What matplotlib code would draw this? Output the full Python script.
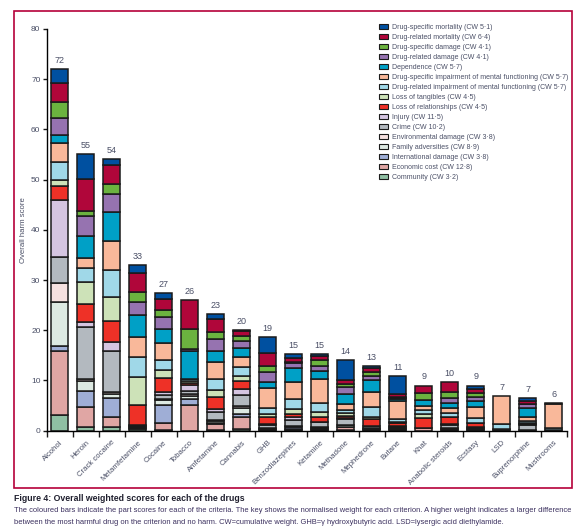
import matplotlib.pyplot as plt
from matplotlib.patches import Patch, Rectangle

plt.rcParams["font.family"] = ["Liberation Sans", "DejaVu Sans"]

drugs = ["Alcohol", "Heroin", "Crack cocaine", "Metamfetamine", "Cocaine", "Tobacco",
         "Amfetamine", "Cannabis", "GHB", "Benzodiazepines", "Ketamine", "Methadone",
         "Mephedrone", "Butane", "Khat", "Anabolic steroids", "Ecstasy", "LSD",
         "Buprenorphine", "Mushrooms"]
totals = [72, 55, 54, 33, 27, 26, 23, 20, 19, 15, 15, 14, 13, 11, 9, 10, 9, 7, 7, 6]

# criteria, bottom of the stack first
criteria = ["Community (CW 3·2)", "Economic cost (CW 12·8)", "International damage (CW 3·8)",
            "Family adversities (CW 8·9)", "Environmental damage (CW 3·8)", "Crime (CW 10·2)",
            "Injury (CW 11·5)", "Loss of relationships (CW 4·5)", "Loss of tangibles (CW 4·5)",
            "Drug-related impairment of mental functioning (CW 5·7)",
            "Drug-specific impairment of mental functioning (CW 5·7)",
            "Dependence (CW 5·7)", "Drug-related damage (CW 4·1)", "Drug-specific damage (CW 4·1)",
            "Drug-related mortality (CW 6·4)", "Drug-specific mortality (CW 5·1)"]
colors = ["#8fbfa3", "#e0a6a4", "#9faed6", "#dde9e2", "#f6e1e0", "#b3b9bf",
          "#d5c5e1", "#ee3127", "#cde2b8", "#a0d8e8", "#f9b89a", "#00a0c6",
          "#9673b0", "#6bb33f", "#b0063a", "#0050a0"]

# part scores per drug, same order as criteria
scores = {
    "Alcohol":           [3.2, 12.7, 0.9, 8.9, 3.8, 5.0, 11.5, 2.8, 1.2, 3.6, 3.6, 1.7, 3.3, 3.3, 3.8, 2.7],
    "Heroin":            [0.8, 3.9, 3.3, 1.9, 0.3, 10.4, 1.0, 3.6, 4.5, 2.8, 1.8, 4.5, 4.0, 0.9, 6.4, 5.1],
    "Crack cocaine":     [0.8, 1.9, 3.9, 0.7, 0.4, 8.1, 1.8, 4.3, 4.7, 5.5, 5.7, 5.8, 3.5, 2.0, 3.8, 1.2],
    "Metamfetamine":     [0.3, 0.2, 0.2, 0.1, 0.1, 0.1, 0.1, 4.1, 5.4, 4.0, 4.0, 4.4, 2.7, 2.0, 3.8, 1.5],
    "Cocaine":           [0.1, 1.4, 3.7, 1.0, 0.1, 0.9, 0.6, 2.6, 1.6, 2.0, 3.5, 2.8, 2.4, 1.3, 2.3, 1.1],
    "Tobacco":           [0.0, 5.2, 1.1, 0.7, 0.3, 0.7, 1.1, 0.3, 0.5, 0.3, 0.1, 5.6, 0.4, 3.9, 5.9, 0.0],
    "Amfetamine":        [0.2, 1.1, 0.3, 0.3, 0.2, 1.7, 0.6, 2.3, 1.5, 2.0, 3.4, 2.3, 2.4, 1.3, 2.6, 1.0],
    "Cannabis":          [0.4, 2.4, 0.5, 1.3, 0.4, 2.2, 1.2, 1.4, 1.0, 1.9, 1.9, 1.8, 1.5, 1.0, 1.0, 0.1],
    "GHB":               [0.1, 0.2, 0.1, 0.1, 0.1, 0.6, 0.1, 1.4, 0.6, 1.3, 4.0, 1.1, 2.0, 1.2, 2.6, 3.1],
    "Benzodiazepines":   [0.1, 0.3, 0.3, 0.2, 0.1, 1.2, 0.5, 0.7, 0.9, 2.0, 3.4, 2.8, 0.9, 0.2, 0.9, 0.8],
    "Ketamine":          [0.1, 0.3, 0.1, 0.2, 0.1, 0.9, 0.1, 1.0, 1.0, 1.8, 4.6, 1.7, 0.9, 1.3, 0.7, 0.5],
    "Methadone":         [0.1, 0.6, 0.1, 0.3, 0.1, 1.2, 0.2, 0.4, 0.5, 0.6, 1.2, 2.1, 1.4, 0.5, 0.7, 4.0],
    "Mephedrone":        [0.1, 0.1, 0.1, 0.1, 0.1, 0.4, 0.1, 1.3, 0.5, 2.0, 3.0, 2.2, 0.8, 0.8, 0.8, 0.4],
    "Butane":            [0.1, 0.1, 0.1, 0.3, 0.1, 0.1, 0.1, 0.6, 0.3, 0.6, 3.5, 0.4, 0.3, 0.2, 0.5, 3.5],
    "Khat":              [0.0, 0.5, 0.0, 0.0, 0.0, 0.1, 0.0, 1.9, 0.8, 0.8, 0.8, 1.2, 0.0, 1.5, 1.4, 0.0],
    "Anabolic steroids": [0.1, 0.2, 0.1, 0.1, 0.1, 0.6, 0.1, 1.4, 0.1, 0.8, 1.0, 1.0, 1.0, 1.2, 1.8, 0.0],
    "Ecstasy":           [0.1, 0.1, 0.1, 0.1, 0.1, 0.1, 0.1, 0.8, 0.1, 1.0, 2.2, 1.2, 0.8, 0.8, 0.8, 0.6],
    "LSD":               [0.0, 0.1, 0.0, 0.0, 0.0, 0.0, 0.1, 0.0, 0.1, 1.0, 5.7, 0.0, 0.0, 0.0, 0.0, 0.0],
    "Buprenorphine":     [0.1, 0.1, 0.0, 0.0, 0.0, 1.0, 0.0, 0.2, 0.2, 0.3, 0.8, 1.9, 0.7, 0.1, 0.6, 0.6],
    "Mushrooms":         [0.0, 0.1, 0.0, 0.0, 0.0, 0.0, 0.0, 0.0, 0.0, 0.5, 4.8, 0.0, 0.0, 0.0, 0.1, 0.0],
}

crimson = "#b5003a"
textcol = "#4a4f66"

fig = plt.figure(figsize=(5.87, 5.31), dpi=100)
ax = fig.add_axes([0.0796, 0.1889, 0.8858, 0.7565])

xs = list(range(len(drugs)))
bottoms = [0.0] * len(drugs)
for k, crit in enumerate(criteria):
    for i, d in enumerate(drugs):
        v = scores[d][k]
        if v <= 0:
            continue
        ax.bar(i, v, bottom=bottoms[i], width=0.64, color=colors[k],
               edgecolor="#1a1a1a", linewidth=1.1)
        bottoms[i] += v

for i, t in enumerate(totals):
    ax.text(i, bottoms[i] + 0.8, str(t), ha="center", va="bottom",
            fontsize=6.5, color=textcol)

ax.set_xlim(-0.5, len(drugs) - 0.5)
ax.set_ylim(0, 80)
ax.set_yticks(range(0, 81, 10))
ax.set_xticks([x - 0.5 for x in range(len(drugs) + 1)])
ax.set_xticklabels([])
ax.set_xticks(xs, minor=True)
ax.set_xticklabels(drugs, minor=True, rotation=45, ha="right", rotation_mode="anchor",
                   fontsize=5.6, color=textcol)
ax.tick_params(axis="x", which="minor", length=0, pad=6)
ax.tick_params(axis="x", which="major", length=4, width=1.0, color="#1a1a1a")
ax.tick_params(axis="y", length=3, width=1.0, color="#1a1a1a", labelsize=6,
               labelcolor=textcol, pad=1.5)
for s in ["top", "right"]:
    ax.spines[s].set_visible(False)
ax.spines["left"].set_linewidth(1.0)
ax.spines["bottom"].set_linewidth(1.0)
ax.set_ylabel("Overall harm score", fontsize=5.6, color=textcol, labelpad=3)

handles = [Patch(facecolor=colors[k], edgecolor="#1a1a1a", linewidth=0.8)
           for k in range(len(criteria))][::-1]
ax.legend(handles, criteria[::-1], loc="upper left", bbox_to_anchor=(0.633, 1.02),
          frameon=False, fontsize=5.0, handlelength=1.4, handleheight=0.8,
          labelspacing=0.42, handletextpad=0.5, borderaxespad=0, labelcolor=textcol)

# red frame around the figure panel
fig.patches.append(Rectangle((0.0244, 0.081), 0.95, 0.899, transform=fig.transFigure,
                             fill=False, edgecolor=crimson, linewidth=1.2))

fig.text(0.024, 0.062, "Figure 4: Overall weighted scores for each of the drugs",
         fontsize=6.3, fontweight="bold", color="#1f1f2e", va="center")
fig.text(0.024, 0.038, "The coloured bars indicate the part scores for each of the criteria. "
         "The key shows the normalised weight for each criterion. A higher weight indicates a larger difference",
         fontsize=5.45, color="#3a2f5e", va="center")
fig.text(0.024, 0.016, "between the most harmful drug on the criterion and no harm. "
         "CW=cumulative weight. GHB=γ hydroxybutyric acid. LSD=lysergic acid diethylamide.",
         fontsize=5.45, color="#3a2f5e", va="center")

fig.savefig("out.png", dpi=100)
